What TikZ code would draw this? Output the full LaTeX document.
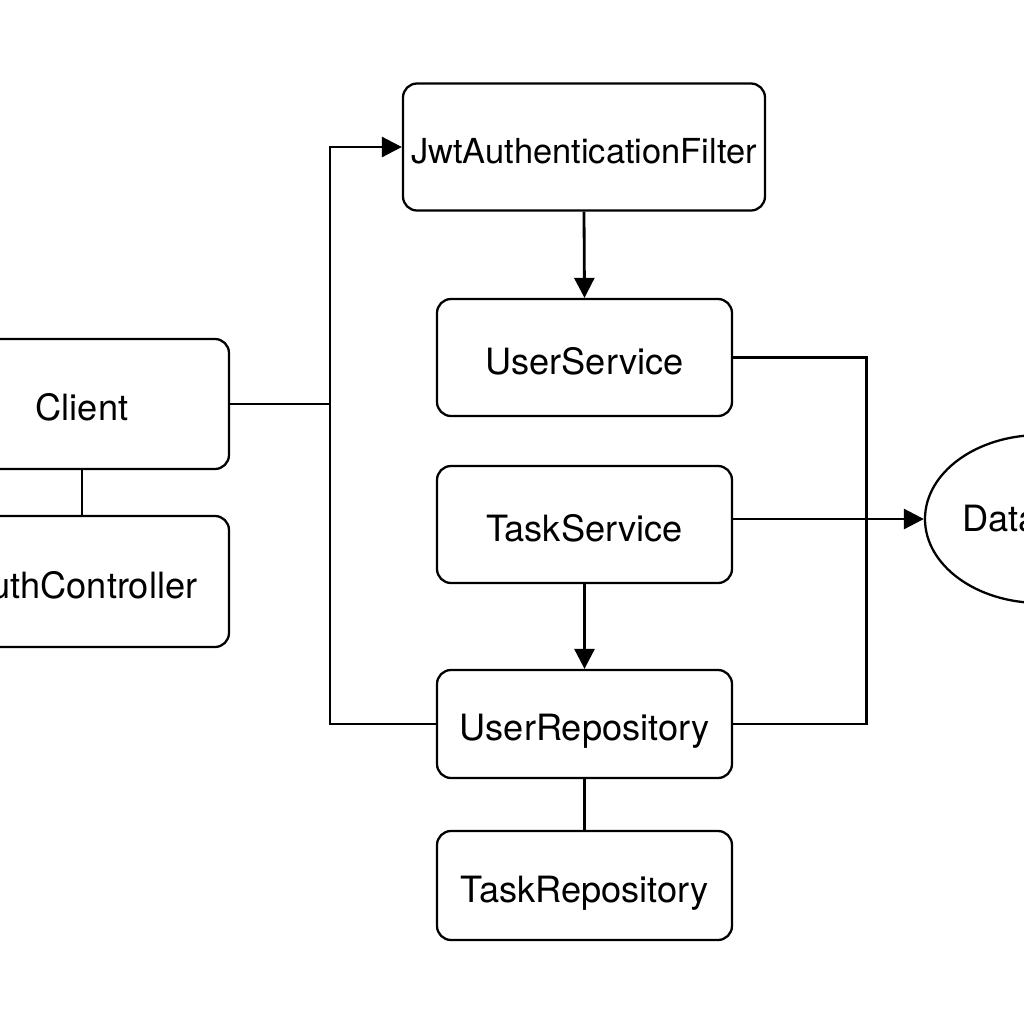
\documentclass[tikz,border=0pt]{standalone}
\usepackage{fontspec}
\setsansfont{TeX Gyre Heros}
\usepackage{tikz}
\usetikzlibrary{shapes.geometric,arrows.meta,positioning}

\begin{document}
\begin{tikzpicture}[
      component/.style={draw, line width=0.65pt, rounded corners=4pt, inner sep=0pt, minimum width=2.95cm, text height=9.4pt, text depth=0pt, align=center, font=\sffamily\fontsize{10.3}{12}\selectfont},
      storage/.style={draw, line width=0.65pt, ellipse, inner sep=0pt, minimum width=2.3cm, minimum height=1.68cm, font=\sffamily\fontsize{10.3}{12}\selectfont},
      arrowstyle/.style={-{Triangle[length=5.7pt, width=5.7pt]}, line width=0.8pt},
      link/.style={line width=0.8pt}
    ]
    \useasboundingbox (0,0) rectangle (10.24,-10.24);

    \node[component, minimum width=3.62cm, minimum height=1.27cm, font=\sffamily\fontsize{9.8}{12}\selectfont] (filter) at (5.84,-1.47) {JwtAuthenticationFilter};
    \node[component, minimum height=1.17cm] (userservice) at (5.845,-3.575) {UserService};
    \node[component, minimum height=1.17cm] (taskservice) at (5.845,-5.245) {TaskService};
    \node[component, minimum height=1.08cm] (userrepo) at (5.845,-7.24) {UserRepository};
    \node[component, minimum height=1.09cm] (taskrepo) at (5.845,-8.855) {TaskRepository};

    \node[component, minimum width=2.94cm, minimum height=1.30cm] (client) at (0.82,-4.04) {Client};
    \node[component, minimum width=2.94cm, minimum height=1.31cm] (authctrl) at (0.82,-5.815) {AuthController};

    \node[storage] (db) at (10.40,-5.19) {Database};

    \coordinate (bus) at (3.30,-4.04);

    \draw[link] (client.east) -- (bus);
    \draw[link] (client.south) -- (authctrl.north);
    \draw[arrowstyle] (userrepo.west) -| (bus) |- (filter.west);
    \draw[arrowstyle] (filter.south) -- (userservice.north);
    \draw[link] (userservice.east) -- ++(1.33,0) |- (userrepo.east);
    \draw[arrowstyle] (taskservice.east |- db.west) -- (db.west);
    \draw[arrowstyle] (taskservice.south) -- (userrepo.north);
    \draw[link] (userrepo.south) -- (taskrepo.north);
  \end{tikzpicture}
\end{document}
